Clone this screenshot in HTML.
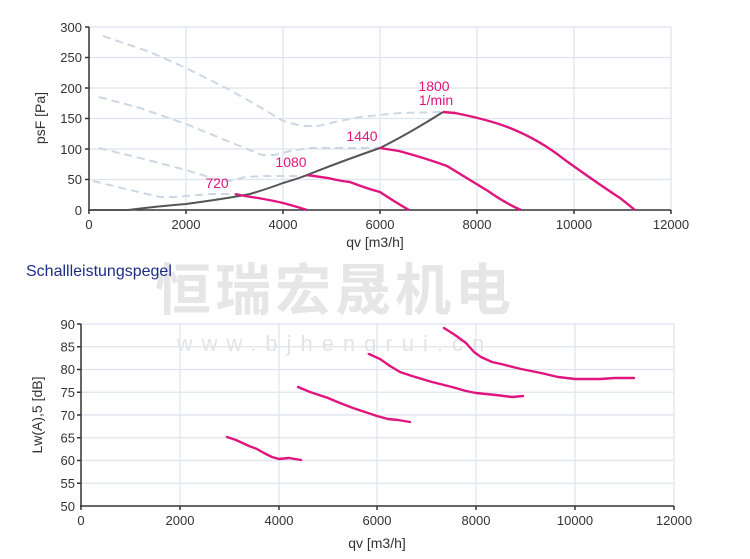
<!DOCTYPE html>
<html><head><meta charset="utf-8"><style>
html,body{margin:0;padding:0;background:#fff;width:750px;height:559px;overflow:hidden}
svg{display:block;font-family:"Liberation Sans",Arial,sans-serif}
</style></head><body>
<svg width="750" height="559" viewBox="0 0 750 559" xmlns="http://www.w3.org/2000/svg">
<!-- watermark -->
<text x="335" y="310" font-family="'Noto Sans CJK SC',sans-serif" font-weight="bold" font-size="56" fill="#e6e6e6" text-anchor="middle" letter-spacing="4">恒瑞宏晟机电</text>
<text x="335" y="351" font-size="22" fill="#e4e4e4" text-anchor="middle" letter-spacing="9">www.bjhengrui.cn</text>

<!-- TOP CHART -->
<g stroke="#dde4ee" stroke-width="1.2" fill="none">
<line x1="186" y1="27" x2="186" y2="210"/><line x1="283" y1="27" x2="283" y2="210"/>
<line x1="380" y1="27" x2="380" y2="210"/><line x1="477" y1="27" x2="477" y2="210"/>
<line x1="574" y1="27" x2="574" y2="210"/><line x1="671" y1="27" x2="671" y2="210"/>
<line x1="89" y1="27" x2="671" y2="27"/><line x1="89" y1="57.5" x2="671" y2="57.5"/>
<line x1="89" y1="88" x2="671" y2="88"/><line x1="89" y1="118.5" x2="671" y2="118.5"/>
<line x1="89" y1="149" x2="671" y2="149"/><line x1="89" y1="179.5" x2="671" y2="179.5"/>
</g>
<g stroke="#333" stroke-width="1.5">
<line x1="89" y1="27" x2="89" y2="211"/><line x1="88" y1="210" x2="671" y2="210"/>
<line x1="85" y1="27" x2="89" y2="27"/><line x1="85" y1="57.5" x2="89" y2="57.5"/><line x1="85" y1="88" x2="89" y2="88"/><line x1="85" y1="118.5" x2="89" y2="118.5"/><line x1="85" y1="149" x2="89" y2="149"/><line x1="85" y1="179.5" x2="89" y2="179.5"/>
<line x1="89" y1="210" x2="89" y2="214"/><line x1="186" y1="210" x2="186" y2="214"/><line x1="283" y1="210" x2="283" y2="214"/><line x1="380" y1="210" x2="380" y2="214"/><line x1="477" y1="210" x2="477" y2="214"/><line x1="574" y1="210" x2="574" y2="214"/><line x1="671" y1="210" x2="671" y2="214"/>
</g>
<g font-size="13" fill="#333" text-anchor="end">
<text x="82" y="32">300</text><text x="82" y="62">250</text><text x="82" y="93">200</text><text x="82" y="123">150</text><text x="82" y="154">100</text><text x="82" y="184">50</text><text x="82" y="215">0</text>
</g>
<g font-size="13" fill="#333" text-anchor="middle">
<text x="89" y="229">0</text><text x="186" y="229">2000</text><text x="283" y="229">4000</text><text x="380" y="229">6000</text><text x="477" y="229">8000</text><text x="574" y="229">10000</text><text x="671" y="229">12000</text>
<text x="375" y="247" font-size="14">qv [m3/h]</text>
</g>
<text transform="translate(45,118) rotate(-90)" font-size="14" fill="#333" text-anchor="middle">psF [Pa]</text>
<g fill="none" stroke="#cdd7e4" stroke-width="2" stroke-dasharray="8,5" stroke-linejoin="round">
<polyline points="103,36 150,52 186,68 230,90 265,110 283,121 302,126 318,126 335,122 360,117 400,113 443,112"/>
<polyline points="99,97 140,108 186,124 230,142 262,155 275,155 290,151 310,148 350,148 380,148"/>
<polyline points="99,148 140,158 186,170 215,179 230,181 245,177 265,176 283,176 307,176"/>
<polyline points="93,181 130,190 160,197 175,197 186,196 210,194 235,194"/>
</g>
<path d="M89,210 L128,210 Q160,206 186,204 Q230,198 250,194 Q270,188 283,183 Q300,178 307,175 Q345,160 380,148 Q410,133 443,112" fill="none" stroke="#555" stroke-width="2"/>
<g fill="none" stroke="#e0157e" stroke-width="2.4">
<path d="M235,194 L245,196 L258,198 Q275,201 283,203 Q298,207 307,210"/>
<path d="M307,175 L328,178 Q340,181 350,182 Q365,188 380,192 Q395,202 409,210"/>
<path d="M380,148 L399,151 Q425,158 447,166 Q470,180 488,191 Q505,203 521,210"/>
<path d="M443,112 L455,113 Q490,120 510,128 Q540,140 565,160 Q600,185 620,198 Q630,206 635,210"/>
</g>
<g font-size="14" fill="#e0157e" text-anchor="middle">
<text x="217" y="188">720</text><text x="291" y="167">1080</text><text x="362" y="141">1440</text><text x="434" y="91">1800</text><text x="436" y="105">1/min</text>
</g>

<!-- BOTTOM -->
<text x="26" y="276" font-size="16" fill="#1c2d86">Schallleistungspegel</text>
<g stroke="#dde4ee" stroke-width="1.2" fill="none">
<line x1="180" y1="324" x2="180" y2="506"/><line x1="279" y1="324" x2="279" y2="506"/><line x1="377" y1="324" x2="377" y2="506"/><line x1="476" y1="324" x2="476" y2="506"/><line x1="575" y1="324" x2="575" y2="506"/><line x1="674" y1="324" x2="674" y2="506"/>
<line x1="81" y1="324" x2="674" y2="324"/><line x1="81" y1="346.75" x2="674" y2="346.75"/><line x1="81" y1="369.5" x2="674" y2="369.5"/><line x1="81" y1="392.25" x2="674" y2="392.25"/><line x1="81" y1="415" x2="674" y2="415"/><line x1="81" y1="437.75" x2="674" y2="437.75"/><line x1="81" y1="460.5" x2="674" y2="460.5"/><line x1="81" y1="483.25" x2="674" y2="483.25"/>
</g>
<g stroke="#333" stroke-width="1.5">
<line x1="81" y1="324" x2="81" y2="507"/><line x1="80" y1="506" x2="674" y2="506"/>
<line x1="77" y1="324" x2="81" y2="324"/><line x1="77" y1="346.75" x2="81" y2="346.75"/><line x1="77" y1="369.5" x2="81" y2="369.5"/><line x1="77" y1="392.25" x2="81" y2="392.25"/><line x1="77" y1="415" x2="81" y2="415"/><line x1="77" y1="437.75" x2="81" y2="437.75"/><line x1="77" y1="460.5" x2="81" y2="460.5"/><line x1="77" y1="483.25" x2="81" y2="483.25"/>
<line x1="81" y1="506" x2="81" y2="510"/><line x1="180" y1="506" x2="180" y2="510"/><line x1="279" y1="506" x2="279" y2="510"/><line x1="377" y1="506" x2="377" y2="510"/><line x1="476" y1="506" x2="476" y2="510"/><line x1="575" y1="506" x2="575" y2="510"/><line x1="674" y1="506" x2="674" y2="510"/>
</g>
<g font-size="13" fill="#333" text-anchor="end">
<text x="75" y="329">90</text><text x="75" y="351.5">85</text><text x="75" y="374">80</text><text x="75" y="397">75</text><text x="75" y="420">70</text><text x="75" y="442.5">65</text><text x="75" y="465">60</text><text x="75" y="488">55</text><text x="75" y="511">50</text>
</g>
<g font-size="13" fill="#333" text-anchor="middle">
<text x="81" y="525">0</text><text x="180" y="525">2000</text><text x="279" y="525">4000</text><text x="377" y="525">6000</text><text x="476" y="525">8000</text><text x="575" y="525">10000</text><text x="674" y="525">12000</text>
<text x="377" y="548" font-size="14">qv [m3/h]</text>
</g>
<text transform="translate(42,415) rotate(-90)" font-size="14" fill="#333" text-anchor="middle">Lw(A),5 [dB]</text>
<g fill="none" stroke="#e0157e" stroke-width="2.4" stroke-linecap="round" stroke-linejoin="round">
<polyline points="227,437 236,440 249,446 257,449 264,453 272,457 279,459 289,458 301,460"/>
<polyline points="298,387 310,392 328,398 340,403 353,408 365,412 377,416 388,419 398,420 410,422"/>
<polyline points="369,354 380,359 390,366 400,372 412,376 432,382 452,387 466,391 476,393 496,395 512,397 523,396"/>
<polyline points="444,328 455,335 466,343 474,352 481,357 492,362 501,364 521,369 541,373 558,377 575,379 590,379 600,379 615,378 634,378"/>
</g>
</svg>
</body></html>
